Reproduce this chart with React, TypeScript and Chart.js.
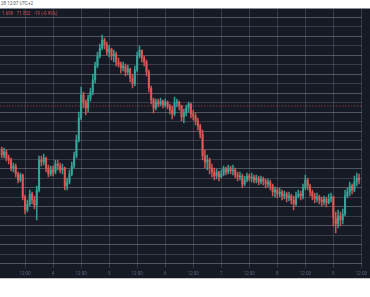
import React, { useEffect, useRef } from "react";
import { Chart, registerables } from "chart.js";

Chart.register(...registerables);

// ---- data (hourly candles, hour counted from day 3 00:00) ----
const FIRST_HOUR = 2;
const FIRST_OPEN = 75.0;

const CLOSES = [
  74.5, 74.8, 74.2, 74.0, 73.2, 73.4, 72.6, 72.0, 72.5, 70.3,
  69.0, 69.6, 70.6, 70.0, 69.5, 71.0, 74.0, 73.8, 74.2, 73.2,
  72.6, 73.0, 72.8, 73.6, 73.4, 73.0, 73.2, 71.4, 71.8, 72.6,
  73.4, 74.4, 76.0, 78.2, 80.5, 79.7, 79.2, 80.2, 80.8, 82.0,
  83.4, 84.4, 85.2, 86.0, 85.5, 84.8, 85.1, 84.4, 84.6, 83.8,
  83.6, 83.2, 83.4, 82.8, 83.1, 82.2, 81.6, 83.0, 84.4, 85.0,
  84.2, 83.8, 82.8, 81.2, 80.0, 79.2, 79.8, 79.6, 79.9, 79.5,
  79.8, 79.4, 79.0, 78.6, 79.7, 79.8, 79.4, 78.3, 78.7, 79.2,
  79.6, 78.6, 78.4, 77.9, 77.4, 76.6, 74.4, 73.8, 74.0, 73.2,
  72.8, 72.4, 72.8, 72.3, 72.6, 73.1, 72.8, 73.2, 72.9, 73.0,
  72.5, 72.3, 72.4, 71.6, 72.0, 72.4, 72.2, 72.3, 72.0, 72.2,
  71.8, 72.1, 71.9, 71.6, 71.8, 71.4, 70.8, 71.0, 70.6, 70.8,
  70.4, 70.6, 70.2, 70.4, 70.0, 69.6, 70.4, 70.6, 70.4, 71.2,
  72.0, 71.4, 70.8, 70.4, 70.1, 70.3, 70.0, 69.8, 70.1, 69.7,
  70.1, 70.3, 68.2, 67.6, 68.4, 68.0, 68.6, 70.4, 70.8, 71.4,
  71.0, 71.8, 72.2, 72.0,
];

const HIGHS = [
  75.3, 75.2, 75.0, 74.5, 74.2, 73.7, 73.6, 72.8, 72.7, 72.6,
  70.5, 70.0, 71.0, 70.8, 70.4, 71.4, 74.4, 74.4, 74.6, 74.3,
  73.5, 73.4, 73.4, 74.0, 74.0, 73.7, 73.6, 73.3, 72.2, 73.0,
  73.8, 74.8, 76.5, 78.8, 81.3, 80.8, 80.0, 80.5, 81.2, 82.6,
  83.8, 84.8, 85.6, 86.5, 86.2, 85.8, 85.5, 85.2, 85.0, 84.8,
  84.2, 83.8, 83.8, 83.6, 83.5, 83.2, 82.6, 83.4, 84.8, 85.4,
  85.0, 84.4, 84.0, 83.0, 81.4, 80.2, 80.1, 80.1, 80.2, 80.0,
  80.1, 79.9, 79.6, 79.4, 80.3, 80.1, 79.9, 79.5, 79.1, 79.5,
  79.8, 79.7, 79.0, 78.7, 78.2, 77.6, 77.0, 75.0, 74.5, 74.2,
  73.6, 73.2, 73.1, 72.9, 73.0, 73.4, 73.3, 73.5, 73.4, 73.5,
  73.2, 72.8, 72.8, 72.6, 72.4, 72.7, 72.6, 72.7, 72.5, 72.5,
  72.4, 72.4, 72.3, 72.1, 72.1, 72.0, 71.6, 71.3, 71.2, 71.2,
  71.0, 70.9, 70.8, 70.8, 70.6, 70.4, 70.8, 71.0, 70.9, 71.6,
  72.5, 72.2, 71.6, 71.0, 70.7, 70.7, 70.5, 70.3, 70.4, 70.3,
  70.6, 70.7, 70.4, 68.8, 69.0, 68.8, 69.1, 71.0, 71.2, 71.8,
  71.6, 72.4, 72.7, 72.6,
];

const LOWS = [
  74.2, 74.2, 73.9, 73.6, 72.9, 72.8, 72.3, 71.7, 71.8, 70.0,
  68.6, 68.8, 69.4, 69.6, 69.1, 68.0, 70.8, 73.4, 73.5, 72.8,
  72.3, 72.4, 72.4, 72.6, 73.0, 72.7, 72.6, 71.0, 71.0, 71.6,
  72.4, 73.2, 74.2, 75.8, 78.0, 79.2, 78.5, 78.8, 79.9, 80.5,
  81.7, 83.2, 84.2, 85.0, 85.1, 84.5, 84.3, 84.0, 83.8, 83.4,
  83.3, 82.7, 82.9, 82.4, 82.5, 81.8, 81.2, 81.4, 82.8, 84.2,
  83.8, 83.4, 82.4, 80.8, 79.6, 78.7, 79.0, 79.3, 79.4, 79.2,
  79.3, 79.1, 78.6, 78.1, 78.4, 79.3, 79.0, 77.9, 77.7, 78.4,
  78.8, 78.2, 78.0, 77.5, 77.0, 76.2, 74.0, 73.2, 73.0, 72.6,
  72.3, 72.0, 72.1, 71.9, 72.2, 72.4, 72.5, 72.6, 72.6, 72.5,
  72.2, 71.9, 72.0, 71.2, 71.4, 71.8, 71.9, 71.8, 71.7, 71.7,
  71.5, 71.6, 71.5, 71.2, 71.3, 71.0, 70.4, 70.3, 70.2, 70.3,
  70.0, 70.1, 69.8, 69.9, 69.6, 69.0, 69.4, 70.2, 70.0, 70.1,
  71.0, 71.0, 70.4, 70.0, 69.7, 69.8, 69.6, 69.4, 69.5, 69.3,
  69.6, 69.8, 67.4, 66.7, 67.2, 67.4, 67.6, 68.4, 70.2, 70.4,
  70.6, 70.8, 71.4, 71.6,
];

const REF_PRICE = 79.4;

const TIME_TICKS = [12, 24, 36, 48, 60, 72, 84, 96, 108, 120, 132, 144, 156];
const TIME_LABELS = ["12:00", "4", "12:00", "5", "12:00", "6", "12:00", "7", "12:00", "8", "12:00", "9", "12:00"];

const GRID_BOTTOM = 63.63;
const GRID_STEP = 0.9477;
const GRID_COUNT = 27;

const HEADER_TEXT = "28 12:07 UTC+2";
const LEGEND_TEXT = "1.689   71.832   -19 (-0.99%)";

// ---- view constants ----
const X_MIN = 1.27;
const X_MAX = 156.2;
const Y_MIN = 63.2;
const Y_MAX = 89.2;

const UP = "rgba(52,170,156,0.9)";
const DOWN = "rgba(226,88,86,0.9)";
const BG = "#151a25";

export default function App() {
  const ref = useRef<HTMLCanvasElement | null>(null);

  useEffect(() => {
    if (!ref.current) return;
    const candles = CLOSES.map((c, i) => {
      const o = i === 0 ? FIRST_OPEN : CLOSES[i - 1];
      return { x: FIRST_HOUR + i, o, h: HIGHS[i], l: LOWS[i], c };
    });
    const colors = candles.map((k) => (k.c >= k.o ? UP : DOWN));
    const gridLevels = Array.from({ length: GRID_COUNT }, (_, i) => +(GRID_BOTTOM + i * GRID_STEP).toFixed(4));

    const chart = new Chart(ref.current, {
      type: "bar",
      data: {
        datasets: [
          {
            type: "line",
            data: [
              { x: X_MIN, y: REF_PRICE },
              { x: X_MAX, y: REF_PRICE },
            ],
            borderColor: "rgba(239,83,80,0.5)",
            borderWidth: 1,
            borderDash: [1.5, 1.5],
            pointRadius: 0,
            order: 3,
          } as any,
          {
            data: candles.map((k) => ({ x: k.x, y: [k.l, k.h] })),
            backgroundColor: colors,
            barThickness: 0.9,
            grouped: false,
            order: 2,
          } as any,
          {
            data: candles.map((k) => ({ x: k.x, y: [k.o, k.c] })),
            backgroundColor: colors,
            barThickness: 1.4,
            minBarLength: 1,
            grouped: false,
            order: 1,
          } as any,
        ],
      },
      options: {
        animation: false,
        responsive: false,
        maintainAspectRatio: false,
        layout: { padding: 0, autoPadding: false } as any,
        plugins: { legend: { display: false }, tooltip: { enabled: false } },
        scales: {
          x: {
            type: "linear",
            min: X_MIN,
            max: X_MAX,
            offset: false,
            afterBuildTicks: (s: any) => {
              s.ticks = TIME_TICKS.map((v) => ({ value: v }));
            },
            afterFit: (s: any) => {
              s.height = 10;
            },
            grid: { color: "rgba(120,124,136,0.35)", lineWidth: 1, drawTicks: false, offset: false },
            border: { display: false },
            ticks: {
              autoSkip: false,
              maxRotation: 0,
              padding: 3,
              color: "#62667a",
              font: { size: 4.5, family: "Roboto, 'Liberation Sans', sans-serif" },
              callback: (v: any) => TIME_LABELS[TIME_TICKS.indexOf(Number(v))] ?? "",
            },
          },
          y: {
            type: "linear",
            min: Y_MIN,
            max: Y_MAX,
            afterBuildTicks: (s: any) => {
              s.ticks = gridLevels.map((v) => ({ value: v }));
            },
            afterFit: (s: any) => {
              s.width = 0;
            },
            grid: {
              color: (ctx: any) => (ctx.index % 2 === 0 ? "rgba(130,134,146,0.55)" : "rgba(130,134,146,0.32)"),
              lineWidth: 1,
              drawTicks: false,
            },
            border: { display: false },
            ticks: { display: false },
          },
        },
      } as any,
    });
    return () => chart.destroy();
  }, []);

  return (
    <div style={{ position: "absolute", left: 0, top: 0, width: 370, height: 297, background: "#ffffff", overflow: "hidden" }}>
      <div
        style={{
          position: "absolute",
          left: 1,
          top: 1,
          fontSize: 4.5,
          lineHeight: "6px",
          color: "#555",
          fontFamily: "Roboto, 'Liberation Sans', sans-serif",
          whiteSpace: "nowrap",
        }}
      >
        {HEADER_TEXT}
      </div>
      <div style={{ position: "absolute", left: 0, top: 8, width: 370, height: 270, background: BG }}>
        <canvas ref={ref} width={370} height={270} style={{ display: "block", width: 370, height: 270 }} />
        <div style={{ position: "absolute", left: 0, top: 0, width: 370, height: 1, background: "#8a8e98" }} />
        <div
          style={{
            position: "absolute",
            left: 2,
            top: 3,
            fontSize: 4.5,
            lineHeight: "6px",
            color: DOWN,
            fontFamily: "Roboto, 'Liberation Sans', sans-serif",
            whiteSpace: "pre",
          }}
        >
          {LEGEND_TEXT}
        </div>
      </div>
      <div style={{ position: "absolute", left: 0, top: 278, width: 370, height: 1, background: "#c8c8c8" }} />
    </div>
  );
}
